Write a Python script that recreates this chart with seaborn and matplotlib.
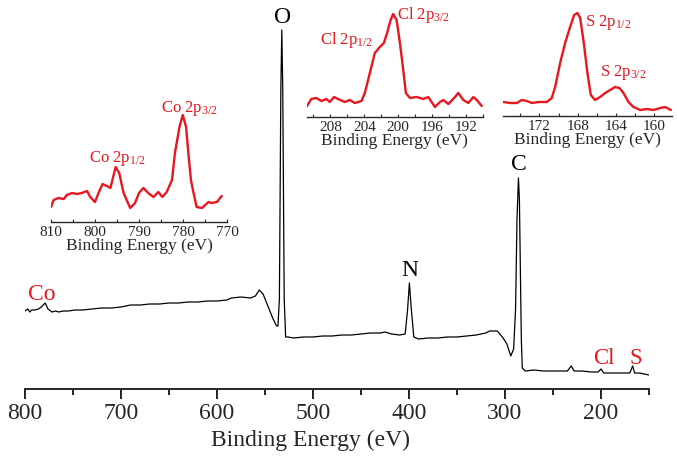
import numpy as np
import pandas as pd
import matplotlib
matplotlib.use("Agg")
import matplotlib.pyplot as plt
import seaborn as sns
from matplotlib.ticker import MultipleLocator


# -------------------------------------------------
# Datos (intensidad en u.a.)
# -------------------------------------------------
survey_ev = [800, 797, 795, 793, 790, 786, 783, 779, 776, 772, 768, 765, 760, 755,
             748, 740, 730, 720, 710, 700, 690, 680, 670, 660, 650, 640, 630, 620,
             610, 600, 590, 585, 575, 565, 560, 556, 552, 547, 542, 538,
             536.5, 535, 533.5, 532.5, 531.5, 530, 528.5, 526, 520, 510, 500, 490,
             480, 470, 460, 450, 440, 430, 425, 418, 410, 404, 401.5, 399.6, 397.5,
             395, 390, 380, 370, 360, 350, 340, 330, 320, 316, 308, 302, 298, 294,
             291, 289, 287.5, 286, 285, 284, 283, 282, 279, 270, 260, 250, 240,
             235, 231, 228, 220, 210, 203, 200, 197, 190, 180, 170, 167, 165, 160,
             155, 150]
survey_int = [78, 80, 77, 79, 79, 80, 82, 86, 80, 77, 78, 77, 78, 78,
              79, 79, 80, 81, 81, 82, 84, 84, 85, 85, 86, 86, 87, 87,
              88, 88, 89, 91, 92, 91, 93, 99, 95, 83, 71, 63,
              63, 90, 300, 359, 300, 90, 52, 52, 51, 52, 52, 53,
              53, 54, 54, 55, 56, 56, 57, 55, 54, 55, 79, 106, 79,
              52, 50, 51, 51, 52, 52, 53, 54, 56, 58, 58, 51, 45, 33,
              40, 80, 170, 211, 190, 120, 50, 21, 18, 19, 18, 18, 18,
              18, 23, 18, 18, 17, 17, 20, 16, 16, 16, 16, 23, 16, 16,
              15, 14]

co_ev = [810, 809.4, 808.3, 807.1, 806.4, 805.2, 804.1, 803.0, 801.8, 801.1, 800.0,
         799.2, 798.3, 797.3, 796.5, 795.3, 794.5, 793.5, 792.0, 790.9, 790.0,
         789.0, 787.9, 786.7, 785.6, 784.7, 783.7, 782.5, 781.8, 780.8, 780.05,
         779.3, 778.8, 778.2, 777.6, 776.9, 775.7, 774.2, 773.5, 772.3, 771.2]
co_int = [15, 22, 24, 23, 27, 29, 28, 29, 31, 25, 20,
          29, 38, 36, 34, 55, 49, 29, 14, 19, 29,
          34, 29, 25, 30, 25, 30, 42, 70, 95, 107,
          95, 70, 42, 29, 15, 14, 20, 19, 20, 26]

cl_ev = [210.84, 210.25, 209.66, 209.06, 208.47, 208.08, 207.57, 207.10, 206.31,
         205.72, 205.13, 204.33, 203.94, 203.35, 202.76, 202.17, 201.70, 201.31,
         200.90, 200.60, 200.19, 199.80, 199.41, 199.10, 198.62, 197.83, 197.05,
         196.46, 196.06, 195.67, 195.08, 194.68, 194.09, 193.30, 192.91, 192.32,
         191.73, 191.14, 190.73, 190.15]
cl_int = [10, 18, 19, 16, 18, 15, 20, 18, 15,
          17, 14, 16, 24, 44, 64, 70, 74, 84,
          97, 103, 97, 74, 47, 24, 19, 20, 18,
          20, 15, 10, 15, 17, 13, 20, 24, 17,
          14, 20, 17, 11]

s_ev = [175.76, 175.06, 174.36, 173.84, 173.31, 172.79, 172.10, 171.23, 170.71,
        170.36, 169.84, 169.32, 168.80, 168.38, 168.03, 167.75, 167.41, 166.99,
        166.64, 166.19, 165.67, 165.14, 164.62, 164.10, 163.65, 163.23, 162.71,
        162.19, 161.49, 160.79, 160.10, 159.40, 158.88, 158.29]
s_int = [14, 13, 13, 16, 15, 13, 14, 14, 18,
         29, 53, 73, 89, 101, 103, 98, 76, 43,
         21, 16, 19, 23, 26, 29, 28, 23, 14,
         9, 6, 7, 6, 8, 9, 6]

rojo = "#e8161e"

sns.set_style("ticks")
plt.rcParams["font.family"] = ["Liberation Serif", "DejaVu Serif"]
plt.rcParams["mathtext.fontset"] = "custom"
plt.rcParams["mathtext.rm"] = "Liberation Serif"
plt.rcParams["mathtext.default"] = "regular"

W, H = 677, 457
fig = plt.figure(figsize=(W / 100, H / 100), dpi=100)


def caja(x0, x1, y_eje, y_top):
    # convierte píxeles a fracción de figura
    return [x0 / W, (H - y_eje) / H, (x1 - x0) / W, (y_eje - y_top) / H]


def limpiar(ax):
    for lado in ["left", "right", "top"]:
        ax.spines[lado].set_visible(False)
    ax.set_yticks([])
    ax.set_ylabel("")
    ax.patch.set_alpha(0)


# -------------------------------------------------
# Espectro general
# -------------------------------------------------
ax = fig.add_axes(caja(25, 649, 389, 0))
sns.lineplot(x=survey_ev, y=survey_int, ax=ax, color="black", linewidth=0.9)
ax.set_xlim(800, 150)
ax.set_ylim(0, 389)
limpiar(ax)
ax.spines["bottom"].set_linewidth(1.4)
ax.xaxis.set_major_locator(MultipleLocator(100))
ax.xaxis.set_minor_locator(MultipleLocator(50))
ax.tick_params(axis="x", which="major", length=7, width=1.4, labelsize=17, pad=3)
ax.tick_params(axis="x", which="minor", length=4.5, width=1.4)
ax.set_xlabel("Binding Energy (eV)", fontsize=17)
ax.xaxis.set_label_coords(0.458, -0.104)

etiquetas = [("O", 532, 372, "black", 17), ("N", 399.6, 118, "black", 17),
             ("C", 286, 225, "black", 17), ("Co", 783, 95, rojo, 17),
             ("Cl", 197.5, 31, rojo, 16.5), ("S", 164, 31, rojo, 16.5)]
for txt, xe, yi, col, fs in etiquetas:
    ax.text(xe, yi, txt, color=col, fontsize=fs, ha="center", va="center")


# -------------------------------------------------
# Recuadros de alta resolución
# -------------------------------------------------
def recuadro(pos, xs, ys, xlim, ylim, mayor, menor, textos):
    a = fig.add_axes(pos)
    sns.lineplot(x=xs, y=ys, ax=a, color=rojo, linewidth=1.7)
    a.set_xlim(*xlim)
    a.set_ylim(*ylim)
    limpiar(a)
    a.spines["bottom"].set_linewidth(1.0)
    a.xaxis.set_major_locator(MultipleLocator(mayor))
    a.xaxis.set_minor_locator(MultipleLocator(menor))
    a.tick_params(axis="x", which="both", direction="in", length=2.5, width=0.8,
                  labelsize=11, pad=3)
    a.set_xlabel("Binding Energy (eV)", fontsize=12.5, labelpad=-1)
    for txt, xe, yi, ha in textos:
        a.text(xe, yi, txt, color=rojo, fontsize=12, ha=ha, va="center")
    return a


recuadro(caja(51, 227, 222, 100), co_ev, co_int, (810, 770), (0, 122), 10, 5,
         [("Co 2p$_{3/2}$", 778.5, 114, "center"),
          ("Co 2p$_{1/2}$", 795, 63, "center")])

recuadro(caja(306.7, 483, 117, 0), cl_ev, cl_int, (210.8, 190), (0, 117), 4, 2,
         [("Cl 2p$_{3/2}$", 200.2, 102, "left"),
          ("Cl 2p$_{1/2}$", 203.0, 77, "right")])

recuadro(caja(503, 671.7, 116, 0), s_ev, s_int, (175.8, 158.2), (0, 116), 4, 2,
         [("S 2p$_{1/2}$", 167.2, 94, "left"),
          ("S 2p$_{3/2}$", 165.7, 43, "left")])

fig.savefig("out.png", dpi=100)
